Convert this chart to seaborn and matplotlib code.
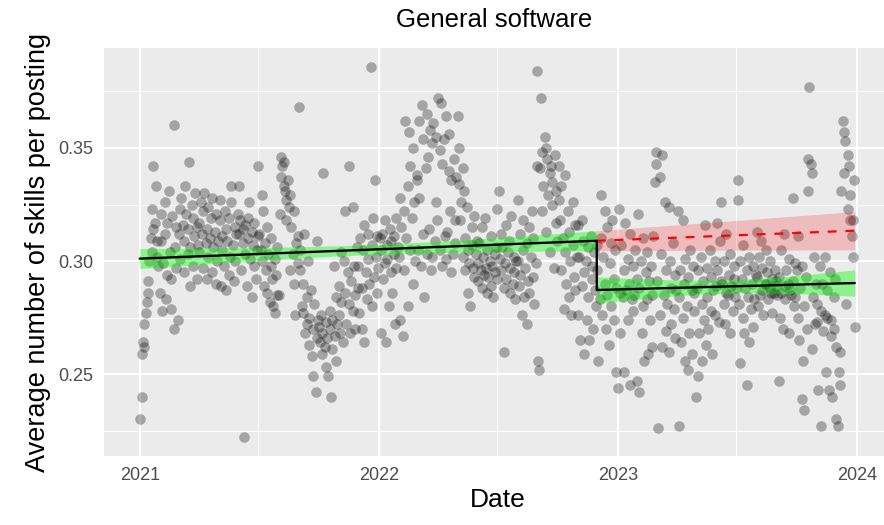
import numpy as np
import pandas as pd
import matplotlib
matplotlib.use("Agg")
import matplotlib.pyplot as plt
import matplotlib.dates as mdates
import seaborn as sns

# Daily (business-day) average number of skills per posting, one list per year
skills_2021 = [
    0.230, 0.240, 0.259, 0.264, 0.262, 0.272, 0.277, 0.282, 0.291, 0.286, 0.300, 0.310, 0.304, 0.323, 0.314, 0.342, 0.317, 0.333, 0.302, 0.309, 0.298,
    0.286, 0.309, 0.321, 0.278, 0.299, 0.326, 0.312, 0.283, 0.294, 0.317, 0.331, 0.304, 0.279, 0.292, 0.320, 0.360, 0.270, 0.306, 0.315, 0.297,
    0.274, 0.312, 0.323, 0.301, 0.328, 0.316, 0.295, 0.309, 0.333, 0.321, 0.303, 0.314, 0.344, 0.289, 0.306, 0.325, 0.319, 0.298, 0.311, 0.330, 0.292, 0.315, 0.307,
    0.317, 0.304, 0.326, 0.312, 0.297, 0.322, 0.330, 0.308, 0.292, 0.314, 0.324, 0.302, 0.310, 0.319, 0.295, 0.328, 0.306, 0.313, 0.290, 0.321, 0.300, 0.309,
    0.318, 0.327, 0.289, 0.311, 0.305, 0.298, 0.322, 0.287, 0.314, 0.309, 0.294, 0.319, 0.302, 0.326, 0.333, 0.307, 0.291, 0.315, 0.300, 0.312, 0.321,
    0.312, 0.333, 0.318, 0.296, 0.308, 0.314, 0.222, 0.303, 0.316, 0.289, 0.310, 0.319, 0.326, 0.301, 0.284, 0.313, 0.307, 0.298, 0.317, 0.292, 0.305, 0.311,
    0.342, 0.312, 0.305, 0.329, 0.300, 0.322, 0.289, 0.308, 0.296, 0.315, 0.286, 0.303, 0.282, 0.298, 0.310, 0.292, 0.280, 0.301, 0.277, 0.294, 0.306, 0.285,
    0.285, 0.321, 0.337, 0.346, 0.342, 0.333, 0.344, 0.331, 0.327, 0.318, 0.336, 0.324, 0.329, 0.296, 0.315, 0.303, 0.322, 0.290, 0.276, 0.308, 0.299, 0.311,
    0.368, 0.296, 0.305, 0.280, 0.290, 0.277, 0.312, 0.268, 0.284, 0.272, 0.300, 0.263, 0.275, 0.287, 0.258, 0.270, 0.249, 0.281, 0.242, 0.266, 0.309, 0.274,
    0.271, 0.264, 0.276, 0.259, 0.268, 0.339, 0.262, 0.273, 0.253, 0.266, 0.249, 0.270, 0.278, 0.240, 0.261, 0.274, 0.298, 0.267, 0.284, 0.256, 0.272,
    0.276, 0.289, 0.268, 0.304, 0.282, 0.264, 0.300, 0.286, 0.322, 0.272, 0.295, 0.281, 0.342, 0.268, 0.291, 0.324, 0.278, 0.298, 0.285, 0.270, 0.306, 0.288,
    0.298, 0.277, 0.310, 0.270, 0.288, 0.305, 0.316, 0.264, 0.295, 0.283, 0.312, 0.301, 0.290, 0.386, 0.307, 0.280, 0.319, 0.293, 0.336, 0.302, 0.286, 0.311, 0.297,
]
skills_2022 = [
    0.310, 0.268, 0.305, 0.312, 0.292, 0.299, 0.318, 0.264, 0.307, 0.301, 0.280, 0.314, 0.295, 0.309, 0.286, 0.303, 0.311, 0.272, 0.297, 0.319, 0.306,
    0.302, 0.328, 0.274, 0.315, 0.267, 0.322, 0.296, 0.362, 0.310, 0.280, 0.333, 0.357, 0.305, 0.342, 0.319, 0.290, 0.350, 0.326, 0.300, 0.338,
    0.336, 0.305, 0.328, 0.362, 0.298, 0.369, 0.354, 0.312, 0.284, 0.341, 0.303, 0.365, 0.346, 0.314, 0.358, 0.296, 0.352, 0.302, 0.361, 0.309, 0.326, 0.355, 0.318,
    0.372, 0.305, 0.349, 0.370, 0.298, 0.343, 0.354, 0.311, 0.364, 0.301, 0.313, 0.340, 0.356, 0.322, 0.295, 0.336, 0.303, 0.345, 0.308, 0.318, 0.337,
    0.364, 0.334, 0.350, 0.318, 0.326, 0.341, 0.302, 0.331, 0.296, 0.310, 0.324, 0.286, 0.305, 0.299, 0.280, 0.315, 0.307, 0.297, 0.320, 0.293, 0.303, 0.309,
    0.299, 0.291, 0.308, 0.296, 0.315, 0.288, 0.302, 0.294, 0.319, 0.297, 0.286, 0.305, 0.293, 0.300, 0.289, 0.311, 0.298, 0.284, 0.303, 0.295, 0.306, 0.292,
    0.323, 0.331, 0.301, 0.312, 0.296, 0.306, 0.288, 0.260, 0.299, 0.316, 0.292, 0.304, 0.309, 0.286, 0.297, 0.320, 0.290, 0.302, 0.295, 0.283, 0.300,
    0.327, 0.300, 0.289, 0.312, 0.294, 0.276, 0.305, 0.318, 0.284, 0.297, 0.308, 0.272, 0.291, 0.315, 0.286, 0.302, 0.322, 0.293, 0.310, 0.281, 0.299, 0.342, 0.384,
    0.256, 0.252, 0.341, 0.372, 0.322, 0.348, 0.333, 0.355, 0.313, 0.350, 0.345, 0.329, 0.339, 0.304, 0.342, 0.325, 0.335, 0.297, 0.347, 0.317, 0.331, 0.309,
    0.327, 0.342, 0.318, 0.333, 0.296, 0.310, 0.279, 0.338, 0.304, 0.290, 0.322, 0.284, 0.313, 0.300, 0.276, 0.326, 0.307, 0.293, 0.316, 0.287, 0.302,
    0.316, 0.276, 0.302, 0.265, 0.318, 0.289, 0.309, 0.295, 0.259, 0.300, 0.274, 0.306, 0.284, 0.265, 0.311, 0.292, 0.298, 0.270, 0.304, 0.287, 0.280, 0.307,
    0.296, 0.256, 0.283, 0.310, 0.329, 0.276, 0.302, 0.322, 0.290, 0.270, 0.315, 0.285, 0.263, 0.299, 0.308, 0.280, 0.318, 0.292, 0.274, 0.305, 0.251, 0.288,
]
skills_2023 = [
    0.244, 0.323, 0.286, 0.268, 0.307, 0.284, 0.296, 0.251, 0.317, 0.287, 0.274, 0.301, 0.290, 0.245, 0.312, 0.283, 0.278, 0.298, 0.285, 0.305, 0.247, 0.292,
    0.321, 0.288, 0.242, 0.300, 0.268, 0.310, 0.280, 0.256, 0.295, 0.283, 0.304, 0.259, 0.291, 0.274, 0.298, 0.285, 0.262, 0.311, 0.335, 0.348,
    0.343, 0.291, 0.226, 0.337, 0.276, 0.303, 0.262, 0.347, 0.285, 0.326, 0.269, 0.296, 0.281, 0.324, 0.260, 0.300, 0.288, 0.272, 0.308, 0.279, 0.294, 0.266, 0.287,
    0.322, 0.284, 0.227, 0.296, 0.264, 0.318, 0.275, 0.290, 0.256, 0.301, 0.280, 0.252, 0.293, 0.268, 0.305, 0.287, 0.259, 0.298, 0.278, 0.286,
    0.240, 0.288, 0.249, 0.296, 0.268, 0.302, 0.256, 0.281, 0.291, 0.274, 0.316, 0.263, 0.297, 0.284, 0.270, 0.305, 0.278, 0.293, 0.259, 0.287, 0.300, 0.276, 0.289,
    0.317, 0.296, 0.273, 0.309, 0.291, 0.326, 0.290, 0.281, 0.300, 0.272, 0.286, 0.312, 0.285, 0.294, 0.268, 0.303, 0.289, 0.278, 0.292, 0.298, 0.284, 0.288,
    0.336, 0.327, 0.281, 0.300, 0.255, 0.292, 0.275, 0.307, 0.268, 0.288, 0.296, 0.245, 0.284, 0.264, 0.302, 0.279, 0.290, 0.271, 0.298, 0.283, 0.294,
    0.313, 0.293, 0.280, 0.302, 0.285, 0.309, 0.287, 0.297, 0.276, 0.290, 0.305, 0.290, 0.295, 0.283, 0.288, 0.300, 0.286, 0.292, 0.277, 0.286, 0.296, 0.289, 0.291,
    0.285, 0.247, 0.293, 0.275, 0.305, 0.286, 0.270, 0.312, 0.289, 0.283, 0.296, 0.290, 0.268, 0.301, 0.287, 0.285, 0.328, 0.291, 0.280, 0.299, 0.284,
    0.296, 0.275, 0.311, 0.265, 0.288, 0.239, 0.298, 0.256, 0.280, 0.234, 0.293, 0.270, 0.331, 0.345, 0.377, 0.343, 0.339, 0.261, 0.284, 0.302, 0.272, 0.290,
    0.273, 0.281, 0.243, 0.298, 0.278, 0.227, 0.290, 0.269, 0.302, 0.276, 0.251, 0.287, 0.275, 0.243, 0.295, 0.267, 0.274, 0.240, 0.284, 0.270, 0.292, 0.262,
    0.230, 0.227, 0.251, 0.245, 0.260, 0.331, 0.362, 0.357, 0.339, 0.353, 0.281, 0.347, 0.323, 0.342, 0.329, 0.318, 0.311, 0.318, 0.302, 0.336, 0.271,
]

year_starts = ["2021-01-01", "2022-01-01", "2023-01-01"]
break_date = "2022-11-30"
tick_years = [2021, 2022, 2023, 2024]
y_ticks = [0.25, 0.30, 0.35]
title_text = "General software"
x_title = "Date"
y_title = "Average number of skills per posting"

frames = []
for start, vals in zip(year_starts, [skills_2021, skills_2022, skills_2023]):
    frames.append(pd.DataFrame({"date": pd.bdate_range(start, periods=len(vals)),
                                "skills": vals}))
df = pd.concat(frames, ignore_index=True)

# Segmented (interrupted time series) regression
t0 = pd.Timestamp(break_date)
t = (df["date"] - t0).dt.days.to_numpy() / 365.25
post = (df["date"] >= t0).to_numpy().astype(float)
X = np.column_stack([np.ones_like(t), t, post, t * post])
y = df["skills"].to_numpy()
beta, *_ = np.linalg.lstsq(X, y, rcond=None)
resid = y - X @ beta
sigma2 = resid @ resid / (len(y) - X.shape[1])
cov = sigma2 * np.linalg.inv(X.T @ X)


def predict(tg, is_post):
    p = np.full_like(tg, 1.0 if is_post else 0.0)
    Xg = np.column_stack([np.ones_like(tg), tg, p, tg * p])
    fit = Xg @ beta
    se = np.sqrt(np.einsum("ij,jk,ik->i", Xg, cov, Xg))
    return fit, fit - 1.96 * se, fit + 1.96 * se


t_pre = np.linspace(t.min(), 0.0, 200)
t_post = np.linspace(0.0, t.max(), 200)
d_pre = t0 + pd.to_timedelta(t_pre * 365.25, unit="D")
d_post = t0 + pd.to_timedelta(t_post * 365.25, unit="D")
pre_fit, pre_lo, pre_hi = predict(t_pre, False)
post_fit, post_lo, post_hi = predict(t_post, True)
cf_fit, cf_lo, cf_hi = predict(t_post, False)

sns.set_theme(style="darkgrid")
plt.rcParams["font.family"] = ["Liberation Sans", "DejaVu Sans"]

fig = plt.figure(figsize=(8.84, 5.25), dpi=100)
ax = fig.add_axes([104 / 884, 69 / 525, 786.5 / 884, 408 / 525])
ax.set_facecolor("#EBEBEB")

sns.scatterplot(data=df, x="date", y="skills", color="black", alpha=0.3,
                s=58, linewidth=0, ax=ax, zorder=2)

# Fitted trends with 95% confidence ribbons; red = pre-trend extrapolation
ax.fill_between(d_pre, pre_lo, pre_hi, color="#00FF00", alpha=0.4, linewidth=0, zorder=3)
ax.fill_between(d_post, post_lo, post_hi, color="#00FF00", alpha=0.4, linewidth=0, zorder=3)
ax.fill_between(d_post, cf_lo, cf_hi, color="#FF0000", alpha=0.2, linewidth=0, zorder=3)
ax.plot(d_post, cf_fit, color="#FF0000", lw=1.6, ls=(0, (4, 4)), zorder=4)
ax.plot(np.concatenate([d_pre, d_post]), np.concatenate([pre_fit, post_fit]),
        color="black", lw=1.7, zorder=5)

# ggplot-like 5% expansion of the data range
dmin, dmax = df["date"].min(), df["date"].max()
pad = (dmax - dmin) * 0.05
ax.set_xlim(dmin - pad, dmax + pad)
ymin, ymax = min(y), max(y)
ypad = (ymax - ymin) * 0.05
ax.set_ylim(ymin - ypad, ymax + ypad)

ax.set_xticks([pd.Timestamp(f"{yr}-01-01") for yr in tick_years])
ax.set_xticks([pd.Timestamp(f"{yr}-07-01") for yr in tick_years[:-1]], minor=True)
ax.xaxis.set_major_formatter(mdates.DateFormatter("%Y"))
ax.set_yticks(y_ticks)
ax.set_yticks([v - 0.025 for v in y_ticks] + [y_ticks[-1] + 0.025], minor=True)
ax.yaxis.set_major_formatter(matplotlib.ticker.FormatStrFormatter("%.2f"))

ax.grid(which="major", color="white", lw=1.5)
ax.grid(which="minor", color="white", lw=0.7)
for s in ax.spines.values():
    s.set_visible(False)
ax.tick_params(which="major", length=5, width=1.2, color="#333333",
               labelcolor="#4D4D4D", labelsize=13, pad=3)
ax.tick_params(which="minor", length=0)

ax.set_xlabel(x_title, fontsize=19, color="black", labelpad=3)
ax.set_ylabel(y_title, fontsize=19.5, color="black", labelpad=5)
fig.text((104 + 884) / 2 / 884, 1 - 20 / 525, title_text, ha="center", va="center",
         fontsize=18.5, color="black")

fig.savefig("out.png", dpi=100)
